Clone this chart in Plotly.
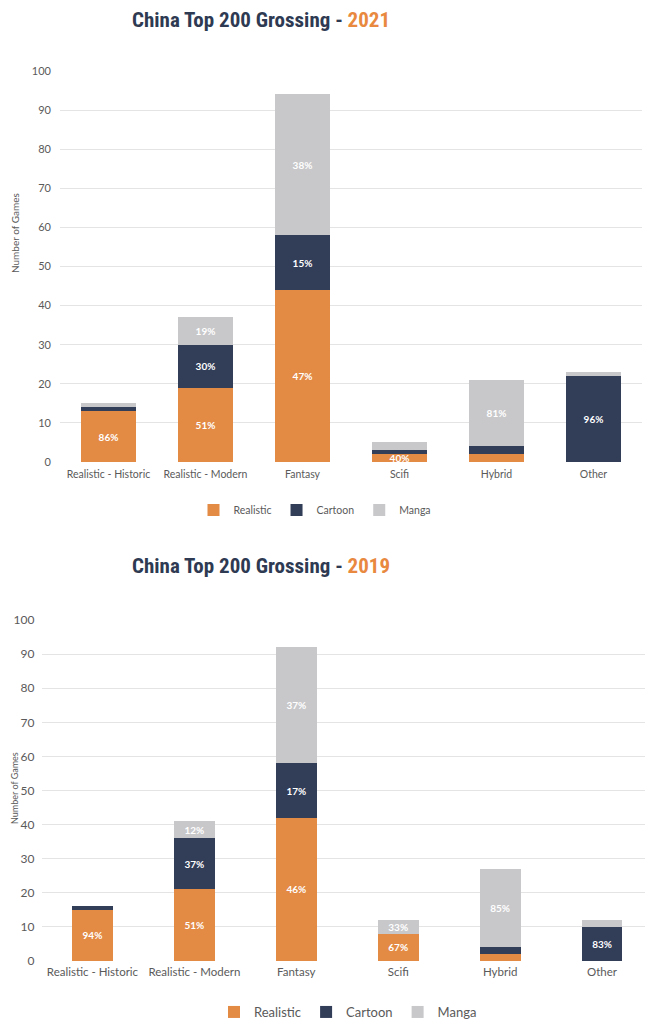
import plotly.graph_objects as go

categories = ["Realistic - Historic", "Realistic - Modern", "Fantasy", "Scifi", "Hybrid", "Other"]
series_names = ["Realistic", "Cartoon", "Manga"]

realistic_2021 = [13, 19, 44, 2, 2, 0]
cartoon_2021 = [1, 11, 14, 1, 2, 22]
manga_2021 = [1, 7, 36, 2, 17, 1]
realistic_2021_labels = ["86%", "51%", "47%", "40%", "", ""]
cartoon_2021_labels = ["", "30%", "15%", "", "", "96%"]
manga_2021_labels = ["", "19%", "38%", "", "81%", ""]

realistic_2019 = [15, 21, 42, 8, 2, 0]
cartoon_2019 = [1, 15, 16, 0, 2, 10]
manga_2019 = [0, 5, 34, 4, 23, 2]
realistic_2019_labels = ["94%", "51%", "46%", "67%", "", ""]
cartoon_2019_labels = ["", "37%", "17%", "", "", "83%"]
manga_2019_labels = ["", "12%", "37%", "33%", "85%", ""]

y_ticks = [0, 10, 20, 30, 40, 50, 60, 70, 80, 90, 100]

colors = ["#E38A45", "#323D58", "#C8C8CA"]
NAVY = "#2E3A52"
ORANGE = "#E8893F"
GRAY_TXT = "#5A5A5A"
GRID = "#E4E4E4"
TICK_FONT = "Lato, 'Open Sans', sans-serif"
TITLE_FONT = "'Roboto Condensed', Roboto, sans-serif"

fig = go.Figure()

sets = [
    ("x", "y", "legend", 0.57, [realistic_2021, cartoon_2021, manga_2021],
     [realistic_2021_labels, cartoon_2021_labels, manga_2021_labels]),
    ("x2", "y2", "legend2", 0.40, [realistic_2019, cartoon_2019, manga_2019],
     [realistic_2019_labels, cartoon_2019_labels, manga_2019_labels]),
]

for xa, ya, lg, w, vals, labs in sets:
    for name, col, v, lab in zip(series_names, colors, vals, labs):
        fig.add_trace(go.Bar(
            x=categories, y=v, name=name, text=lab,
            marker=dict(color=col, line=dict(width=0)),
            width=w, xaxis=xa, yaxis=ya, legend=lg,
            textposition="inside", insidetextanchor="middle", textangle=0,
            textfont=dict(color="white", size=10, family="Lato, sans-serif", weight="bold"),
            hoverinfo="skip",
        ))

# the page body has an 8px margin, so the figure starts at (8, 8) in the window
OFF = 8
FW = 653 - OFF
FH = 1024 - OFF

def fx(p):
    return (p - OFF) / FW

def fy(p):
    return 1 - (p - OFF) / FH

axis_common = dict(showline=False, ticks="", zeroline=False)

fig.update_layout(
    width=FW, height=FH,
    margin=dict(l=0, r=0, t=0, b=0, autoexpand=False),
    paper_bgcolor="white", plot_bgcolor="white",
    barmode="stack",
    uniformtext=dict(mode="show", minsize=10),
    xaxis=dict(domain=[fx(60), fx(642)], anchor="y", showgrid=False, **axis_common,
               tickfont=dict(family=TICK_FONT, size=10.5, color=GRAY_TXT), ticklabelstandoff=4),
    yaxis=dict(domain=[fy(462), fy(71)], anchor="x", range=[0, 100], tickvals=y_ticks,
               showgrid=True, gridcolor=GRID, gridwidth=1, **axis_common,
               tickfont=dict(family=TICK_FONT, size=11, color=GRAY_TXT), ticklabelstandoff=8),
    xaxis2=dict(domain=[fx(41.5), 1.0], anchor="y2", showgrid=False, **axis_common,
                tickfont=dict(family=TICK_FONT, size=11.5, color=GRAY_TXT), ticklabelstandoff=2),
    yaxis2=dict(domain=[fy(961), fy(620)], anchor="x2", range=[0, 100], tickvals=y_ticks,
                showgrid=True, gridcolor=GRID, gridwidth=1, **axis_common,
                tickfont=dict(family=TICK_FONT, size=12, color=GRAY_TXT), ticklabelstandoff=6),
    legend=dict(orientation="h", x=fx(315), xanchor="center", y=fy(510), yanchor="middle",
                font=dict(family=TICK_FONT, size=10.5, color=GRAY_TXT), itemwidth=30,
                traceorder="normal", bgcolor="rgba(0,0,0,0)"),
    legend2=dict(orientation="h", x=fx(348), xanchor="center", y=fy(1012), yanchor="middle",
                 font=dict(family=TICK_FONT, size=13, color=GRAY_TXT), itemwidth=30,
                 traceorder="normal", bgcolor="rgba(0,0,0,0)"),
    showlegend=True,
)

for yr, yc in (("2021", 20), ("2019", 566)):
    fig.add_annotation(
        text="<b>China Top 200 Grossing - <span style='color:%s'>%s</span></b>" % (ORANGE, yr),
        xref="paper", yref="paper", x=fx(261), y=fy(yc), showarrow=False,
        xanchor="center", yanchor="middle",
        font=dict(family=TITLE_FONT, size=21, color=NAVY))

fig.add_annotation(text="Number of Games", xref="paper", yref="paper", x=fx(15), y=fy(233),
                   showarrow=False, textangle=-90, xanchor="center", yanchor="middle",
                   font=dict(family=TICK_FONT, size=10, color=GRAY_TXT))
fig.add_annotation(text="Number of Games", xref="paper", yref="paper", x=fx(14), y=fy(788),
                   showarrow=False, textangle=-90, xanchor="center", yanchor="middle",
                   font=dict(family=TICK_FONT, size=9, color=GRAY_TXT))

fig.write_html("out.html")
